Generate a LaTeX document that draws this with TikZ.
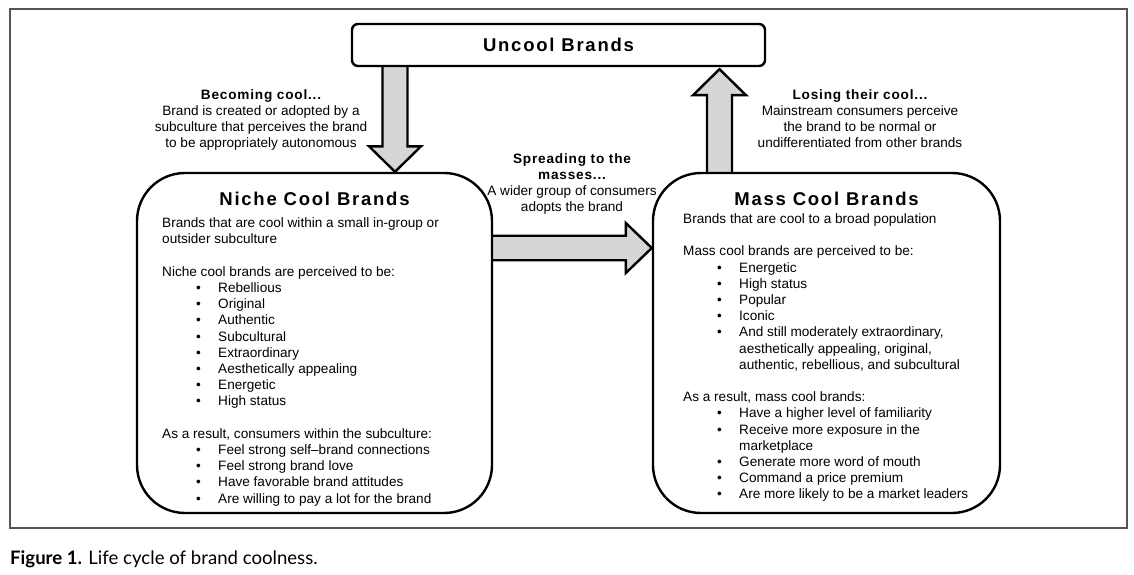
\documentclass[tikz,border=0pt]{standalone}
\usepackage{fontspec}
\setmainfont{Liberation Sans}
\newfontfamily\tfont[LetterSpace=9.5]{Liberation Sans}
\newfontfamily\lfont[LetterSpace=6]{Liberation Sans}
\newfontfamily\capfont{Lato}
\usetikzlibrary{calc}
\pgfdeclarelayer{bg}
\pgfsetlayers{bg,main}
\definecolor{arrowgray}{RGB}{214,214,214}
\definecolor{framegray}{RGB}{85,85,85}
\newcommand\bul{\hspace*{34pt}\makebox[22pt][l]{•}}
\newcommand\cont{\hspace*{56pt}}
\begin{document}
\begin{tikzpicture}[x=1pt,y=-1pt,
  box/.style={draw=black, line width=2.4pt, fill=white, rounded corners=48pt, inner sep=0pt},
  ubox/.style={draw=black, line width=2.4pt, fill=white, rounded corners=6pt, inner sep=0pt,
    font=\fontsize{18.5}{22}\selectfont\tfont\bfseries},
  blockarrow/.style={draw=black, line width=2.4pt, fill=arrowgray, line join=miter},
  lbl/.style={align=center, inner sep=0pt, anchor=north, font=\fontsize{13.6}{16.2}\selectfont},
  body/.style={align=left, inner sep=0pt, anchor=north west, font=\fontsize{13.6}{16.2}\selectfont},
  boxtitle/.style={anchor=base, inner sep=0pt, font=\fontsize{18.5}{22}\selectfont\tfont\bfseries},
  framebox/.style={draw=framegray, line width=1.6pt, inner sep=0pt}
]
\useasboundingbox (0,0) rectangle (1134,575);

% frame
\node[framebox, minimum width=1117pt, minimum height=519pt] (frame) at (568.5,268.5) {};

% boxes
\node[ubox, minimum width=413pt, minimum height=42pt] (uncool) at (558.5,45) {Uncool Brands};
\node[box, minimum width=355pt, minimum height=340pt] (niche) at (314.5,343) {};
\node[box, minimum width=347pt, minimum height=340pt] (mass) at (826.5,343) {};

% titles
\node[boxtitle] (nicheT) at (314.5,205) {Niche Cool Brands};
\node[boxtitle] (massT) at (826.5,205) {Mass Cool Brands};

% body texts
\node[body] (nicheB) at (162,215.5) {\rule{0pt}{12pt}Brands that are cool within a small in-group or\\
outsider subculture\\[16.2pt]
Niche cool brands are perceived to be:\\
\bul Rebellious\\
\bul Original\\
\bul Authentic\\
\bul Subcultural\\
\bul Extraordinary\\
\bul Aesthetically appealing\\
\bul Energetic\\
\bul High status\\[16.2pt]
As a result, consumers within the subculture:\\
\bul Feel strong self–brand connections\\
\bul Feel strong brand love\\
\bul Have favorable brand attitudes\\
\bul Are willing to pay a lot for the brand};

\node[body] (massB) at (683,211.3) {\rule{0pt}{12pt}Brands that are cool to a broad population\\[16.2pt]
Mass cool brands are perceived to be:\\
\bul Energetic\\
\bul High status\\
\bul Popular\\
\bul Iconic\\
\bul And still moderately extraordinary,\\
\cont aesthetically appealing, original,\\
\cont authentic, rebellious, and subcultural\\[16.2pt]
As a result, mass cool brands:\\
\bul Have a higher level of familiarity\\
\bul Receive more exposure in the\\
\cont marketplace\\
\bul Generate more word of mouth\\
\bul Command a price premium\\
\bul Are more likely to be a market leaders};

% arrow labels
\node[lbl] (becoming) at (261,86.8) {\rule{0pt}{12pt}{\lfont\bfseries Becoming cool...}\\
Brand is created or adopted by a\\
subculture that perceives the brand\\
to be appropriately autonomous};
\node[lbl] (losing) at (860,86.8) {\rule{0pt}{12pt}{\lfont\bfseries Losing their cool...}\\
Mainstream consumers perceive\\
the brand to be normal or\\
undifferentiated from other brands};
\node[lbl] (spreading) at (572,150.8) {\rule{0pt}{12pt}{\lfont\bfseries Spreading to the}\\
{\lfont\bfseries masses...}\\
A wider group of consumers\\
adopts the brand};

% caption
\node[anchor=base west, inner sep=0pt, font=\fontsize{18.6}{22}\selectfont\capfont] (caption) at (10,564)
  {\textbf{Figure 1.} Life cycle of brand coolness.};

% arrow anchor coordinates
\coordinate (xd) at (395,0);
\coordinate (xu) at (719.5,0);
\coordinate (yh) at (0,248);
\coordinate (dA) at (uncool.south -| xd);
\coordinate (dB) at (niche.north -| xd);
\coordinate (uA) at (mass.north -| xu);
\coordinate (uB) at (uncool.south -| xu);
\coordinate (hA) at (niche.east |- yh);
\coordinate (hB) at (mass.west |- yh);

\begin{pgfonlayer}{bg}
% down arrow: uncool -> niche
\draw[blockarrow] ($(dA)+(-12.5,-8)$) -- ($(dB)+(-12.5,-25.5)$) -- ($(dB)+(-26,-25.5)$) -- (dB)
  -- ($(dB)+(26,-25.5)$) -- ($(dB)+(12.5,-25.5)$) -- ($(dA)+(12.5,-8)$) -- cycle;
% up arrow: mass -> uncool
\draw[blockarrow] ($(uA)+(-12.5,8)$) -- ($(uB)+(-12.5,28)$) -- ($(uB)+(-26.5,28)$) -- ($(uB)+(0,2)$)
  -- ($(uB)+(26.5,28)$) -- ($(uB)+(12.5,28)$) -- ($(uA)+(12.5,8)$) -- cycle;
% horizontal arrow: niche -> mass
\draw[blockarrow] ($(hA)+(-8,-12.25)$) -- ($(hB)+(-26,-12.25)$) -- ($(hB)+(-26,-25)$) -- (hB)
  -- ($(hB)+(-26,25)$) -- ($(hB)+(-26,12.25)$) -- ($(hA)+(-8,12.25)$) -- cycle;
\end{pgfonlayer}
\end{tikzpicture}
\end{document}
